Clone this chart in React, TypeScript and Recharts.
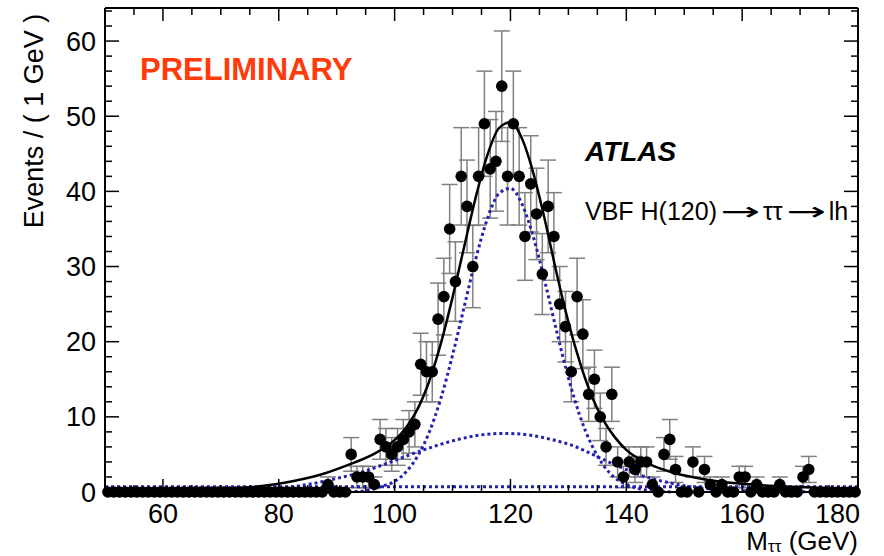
import {
  ComposedChart,
  Scatter,
  Line,
  XAxis,
  YAxis,
  ErrorBar,
} from "recharts";

const FONT = "'Liberation Sans', Arial, Helvetica, sans-serif";

// events per 1 GeV bin, first bin starts at 50 GeV
const counts = [
  0, 0, 0, 0, 0, 0, 0, 0, 0, 0,
  0, 0, 0, 0, 0, 0, 0, 0, 0, 0,
  0, 0, 0, 0, 0, 0, 0, 0, 0, 0,
  0, 0, 0, 0, 0, 0, 0, 0, 1, 0,
  0, 0, 5, 2, 2, 2, 1, 7, 6, 5,
  6, 7, 8, 9, 17, 16, 16, 23, 26, 35,
  28, 42, 38, 30, 42, 49, 43, 44, 54, 42,
  49, 42, 34, 41, 37, 29, 38, 34, 25, 22,
  16, 26, 21, 13, 15, 10, 6, 13, 4, 2,
  4, 3, 4, 4, 1, 0, 5, 7, 3, 0,
  0, 4, 0, 3, 1, 0, 1, 0, 0, 2,
  2, 0, 1, 0, 0, 0, 1, 0, 0, 0,
  2, 3, 0, 0, 0, 0, 0, 0, 0, 0,
];

// total fit
const fitMass = [50, 60, 70, 76, 80, 84, 88, 92, 96, 100, 102, 104, 106, 108, 110, 112, 114, 116, 118, 120, 122, 124, 126, 128, 130, 132, 134, 136, 138, 140, 144, 148, 152, 156, 160, 166, 172, 180];
const fitTotal = [0.1, 0.2, 0.4, 0.7, 1.1, 1.7, 2.5, 3.6, 4.9, 6.9, 8.6, 11.1, 14.8, 19.8, 25.9, 32.6, 39.2, 44.8, 48.4, 49.2, 47.0, 42.3, 36.0, 29.0, 22.6, 17.2, 12.8, 9.6, 7.3, 5.6, 3.7, 2.6, 1.9, 1.4, 1.1, 0.8, 0.6, 0.4];

// narrow component
const narrowMass = [90, 94, 98, 100, 102, 104, 106, 108, 110, 112, 114, 116, 118, 120, 122, 124, 126, 128, 130, 132, 134, 136, 138, 140, 144, 148];
const narrowVals = [0.0, 0.1, 0.8, 1.4, 2.7, 4.8, 8.0, 12.5, 18.2, 24.6, 31.0, 36.3, 39.7, 40.4, 38.3, 33.8, 27.8, 21.3, 15.2, 10.1, 6.3, 3.6, 1.9, 1.0, 0.2, 0.0];

// wide component
const wideMass = [50, 60, 70, 80, 85, 90, 95, 100, 105, 110, 115, 119, 123, 127, 131, 135, 139, 143, 147, 152, 158, 165, 172, 180];
const wideVals = [0, 0.02, 0.15, 0.5, 1.0, 1.8, 2.8, 4.2, 5.6, 6.8, 7.6, 7.8, 7.6, 7.0, 6.1, 4.7, 3.3, 2.1, 1.3, 0.6, 0.25, 0.1, 0.03, 0];

// flat component
const flatMass = [50, 180];
const flatVals = [0.7, 0.7];

const xTicks = [55, 60, 65, 70, 75, 80, 85, 90, 95, 100, 105, 110, 115, 120, 125, 130, 135, 140, 145, 150, 155, 160, 165, 170, 175, 180];
const yTicks = [0, 2, 4, 6, 8, 10, 12, 14, 16, 18, 20, 22, 24, 26, 28, 30, 32, 34, 36, 38, 40, 42, 44, 46, 48, 50, 52, 54, 56, 58, 60, 62, 64];

const points = counts.map((n, i) => ({ x: 50.5 + i, y: n, err: Math.sqrt(n) }));
const toSeries = (xs: number[], ys: number[]) => xs.map((x, i) => ({ x, y: ys[i] }));
const fitData = toSeries(fitMass, fitTotal);
const narrowData = toSeries(narrowMass, narrowVals);
const wideData = toSeries(wideMass, wideVals);
const flatData = toSeries(flatMass, flatVals);

const BLUE = "#2222b0";

const BottomTick = ({ x, y, payload }: any) => {
  const v = payload.value;
  const major = v % 20 === 0;
  const last = v === 180;
  return (
    <g>
      <line x1={x} y1={y} x2={x} y2={y - (major ? 13 : 7)} stroke="#000" strokeWidth={1.5} />
      {major && (
        <text
          x={last ? x + 2 : x}
          y={y + 31}
          textAnchor={last ? "end" : "middle"}
          fontSize={27}
          fontFamily={FONT}
          fill="#000"
        >
          {v}
        </text>
      )}
    </g>
  );
};

const TopTick = ({ x, y, payload }: any) => {
  const major = payload.value % 20 === 0;
  return <line x1={x} y1={y} x2={x} y2={y + (major ? 13 : 7)} stroke="#000" strokeWidth={1.5} />;
};

const LeftTick = ({ x, y, payload }: any) => {
  const v = payload.value;
  const major = v % 10 === 0;
  return (
    <g>
      <line x1={x} y1={y} x2={x + (major ? 14 : 7)} y2={y} stroke="#000" strokeWidth={1.5} />
      {major && (
        <text x={x - 9} y={y + 9.5} textAnchor="end" fontSize={27} fontFamily={FONT} fill="#000">
          {v}
        </text>
      )}
    </g>
  );
};

const RightTick = ({ x, y, payload }: any) => {
  const major = payload.value % 10 === 0;
  return <line x1={x} y1={y} x2={x - (major ? 14 : 7)} y2={y} stroke="#000" strokeWidth={1.5} />;
};

const Dot = (p: any) => <circle cx={p.cx} cy={p.cy} r={5.8} fill="#000" />;

const ARROW = (
  <span
    style={{
      fontFamily: "'DejaVu Sans'",
      display: "inline-block",
      width: 46,
      textAlign: "center",
      transform: "scaleX(1.9)",
    }}
  >
    →
  </span>
);

const App = () => {
  return (
    <div style={{ position: "absolute", left: 0, top: 0, width: 884, height: 556, background: "#fff", fontFamily: FONT }}>
      <ComposedChart width={884} height={556} margin={{ top: 0, right: 0, bottom: 4, left: 5 }}>
        <XAxis
          dataKey="x"
          type="number"
          domain={[50, 180]}
          ticks={xTicks}
          interval={0}
          height={60}
          tickSize={0}
          tickMargin={0}
          tickLine={false}
          tick={<BottomTick />}
          axisLine={{ stroke: "#000", strokeWidth: 2 }}
        />
        <XAxis
          xAxisId="top"
          orientation="top"
          dataKey="x"
          type="number"
          domain={[50, 180]}
          ticks={xTicks}
          interval={0}
          height={8}
          tickSize={0}
          tickMargin={0}
          tickLine={false}
          tick={<TopTick />}
          axisLine={{ stroke: "#000", strokeWidth: 2 }}
        />
        <YAxis
          dataKey="y"
          type="number"
          domain={[0, 64.4]}
          ticks={yTicks}
          interval={0}
          width={100}
          tickSize={0}
          tickMargin={0}
          tickLine={false}
          tick={<LeftTick />}
          axisLine={{ stroke: "#000", strokeWidth: 2 }}
        />
        <YAxis
          yAxisId="right"
          orientation="right"
          dataKey="y"
          type="number"
          domain={[0, 64.4]}
          ticks={yTicks}
          interval={0}
          width={26}
          tickSize={0}
          tickMargin={0}
          tickLine={false}
          tick={<RightTick />}
          axisLine={{ stroke: "#000", strokeWidth: 2 }}
        />
        <Scatter data={points} dataKey="y" shape={Dot} isAnimationActive={false}>
          <ErrorBar dataKey="err" direction="y" width={8} stroke="#808080" strokeWidth={1.5} />
        </Scatter>
        <Line
          data={flatData}
          xAxisId="top"
          yAxisId="right"
          dataKey="y"
          type="linear"
          stroke={BLUE}
          strokeWidth={3}
          strokeDasharray="3 3"
          dot={false}
          isAnimationActive={false}
        />
        <Line
          data={wideData}
          dataKey="y"
          type="monotone"
          stroke={BLUE}
          strokeWidth={3}
          strokeDasharray="3 3"
          dot={false}
          isAnimationActive={false}
        />
        <Line
          data={narrowData}
          dataKey="y"
          type="monotone"
          stroke={BLUE}
          strokeWidth={3}
          strokeDasharray="3 3"
          dot={false}
          isAnimationActive={false}
        />
        <Line
          data={fitData}
          dataKey="y"
          type="monotone"
          stroke="#000"
          strokeWidth={2.5}
          dot={false}
          isAnimationActive={false}
        />
      </ComposedChart>

      <div
        style={{
          position: "absolute",
          left: 34,
          top: 121,
          transform: "translate(-50%, -50%) rotate(-90deg)",
          whiteSpace: "nowrap",
          fontSize: 27,
          lineHeight: "27px",
        }}
      >
        Events / ( 1 GeV )
      </div>
      <div style={{ position: "absolute", right: 26, top: 529, fontSize: 26, lineHeight: "24px", whiteSpace: "nowrap" }}>
        M<span style={{ fontSize: 17, lineHeight: "17px", position: "relative", top: 2 }}>ττ</span> (GeV)
      </div>
      <div style={{ position: "absolute", left: 140, top: 54, fontSize: 31, lineHeight: "31px", fontWeight: 700, color: "#ff3b0a" }}>
        PRELIMINARY
      </div>
      <div style={{ position: "absolute", left: 585, top: 138, fontSize: 28, lineHeight: "28px", fontWeight: 700, fontStyle: "italic" }}>
        ATLAS
      </div>
      <div style={{ position: "absolute", left: 585, top: 199, fontSize: 25, lineHeight: "25px", whiteSpace: "nowrap" }}>
        VBF H(120){ARROW}ττ{ARROW}lh
      </div>
    </div>
  );
};

export default App;
